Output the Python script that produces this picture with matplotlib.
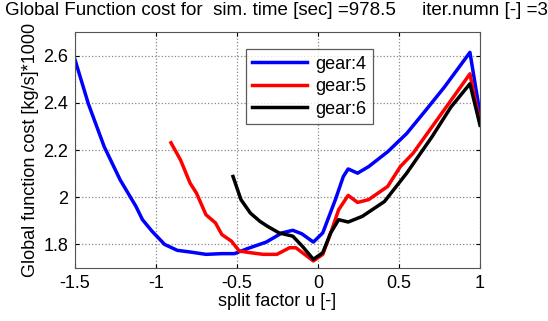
import matplotlib
matplotlib.use('Agg')
import matplotlib.pyplot as plt

plt.rcParams['font.family'] = ['Liberation Sans', 'DejaVu Sans']

# gear 4
u4 = [-1.5, -1.418, -1.32, -1.222, -1.124, -1.084, -1.025, -0.947, -0.869, -0.79,
      -0.692, -0.594, -0.516, -0.437, -0.32, -0.222, -0.156, -0.1, -0.029, 0.029,
      0.107, 0.156, 0.186, 0.244, 0.3125, 0.43, 0.547, 0.664, 0.78, 0.9375, 1.0]
c4 = [2.582, 2.396, 2.214, 2.074, 1.961, 1.905, 1.856, 1.80, 1.775, 1.768,
      1.758, 1.761, 1.761, 1.782, 1.81, 1.849, 1.86, 1.845, 1.81, 1.849,
      1.99, 2.088, 2.12, 2.102, 2.13, 2.193, 2.27, 2.368, 2.467, 2.614, 2.354]

# gear 5
u5 = [-0.908, -0.849, -0.79, -0.751, -0.692, -0.633, -0.594, -0.535, -0.486, -0.418,
      -0.339, -0.254, -0.176, -0.137, -0.029, 0.029, 0.078, 0.127, 0.186, 0.244,
      0.3125, 0.43, 0.508, 0.586, 0.703, 0.82, 0.9375, 1.0]
c5 = [2.231, 2.158, 2.06, 2.018, 1.926, 1.891, 1.842, 1.814, 1.772, 1.765,
      1.758, 1.758, 1.786, 1.786, 1.73, 1.758, 1.849, 1.947, 2.008, 1.978,
      1.99, 2.046, 2.13, 2.186, 2.298, 2.41, 2.523, 2.312]

# gear 6
u6 = [-0.525, -0.476, -0.418, -0.359, -0.3125, -0.241, -0.156, -0.098, -0.029, 0.029,
      0.078, 0.127, 0.186, 0.273, 0.41, 0.547, 0.703, 0.82, 0.9375, 1.0]
c6 = [2.088, 1.99, 1.933, 1.898, 1.877, 1.849, 1.835, 1.793, 1.737, 1.765,
      1.849, 1.905, 1.895, 1.919, 1.982, 2.102, 2.256, 2.382, 2.481, 2.305]

xticks = [-1.5, -1, -0.5, 0, 0.5, 1]
xticklabels = ['-1.5', '-1', '-0.5', '0', '0.5', '1']
yticks = [1.8, 2.0, 2.2, 2.4, 2.6]
yticklabels = ['1.8', '2', '2.2', '2.4', '2.6']

fig = plt.figure(figsize=(5.48, 3.21), dpi=100)
ax = fig.add_axes([0.137, 0.165, 0.739, 0.735])

ax.plot(u4, c4, color='#0000ff', lw=2.5, label='gear:4')
ax.plot(u5, c5, color='#ff0000', lw=2.5, label='gear:5')
ax.plot(u6, c6, color='#000000', lw=2.5, label='gear:6')

ax.set_xlim(-1.5, 1)
ax.set_ylim(1.7, 2.7)
ax.set_xticks(xticks)
ax.set_xticklabels(xticklabels)
ax.set_yticks(yticks)
ax.set_yticklabels(yticklabels)
ax.tick_params(labelsize=13, direction='in', top=True, right=True, length=3, pad=5)
ax.grid(True, linestyle=':', color='#888888', lw=0.9)
for s in ax.spines.values():
    s.set_color('#555555')

ax.set_xlabel('split factor u [-]', fontsize=13, labelpad=1)
ax.set_ylabel('Global function cost [kg/s]*1000', fontsize=13, labelpad=3)
fig.text(0.505, 0.995, 'Global Function cost for  sim. time [sec] =978.5     iter.numn [-] =3',
         ha='center', va='top', fontsize=13.5)

leg = ax.legend(loc='upper left', bbox_to_anchor=(0.4, 0.965), fontsize=13,
                handlelength=3.0, frameon=True, fancybox=False, borderpad=0.35,
                labelspacing=0.3, handletextpad=0.5)
leg.get_frame().set_edgecolor('#333333')
leg.get_frame().set_linewidth(0.9)

fig.savefig('out.png', dpi=100)
